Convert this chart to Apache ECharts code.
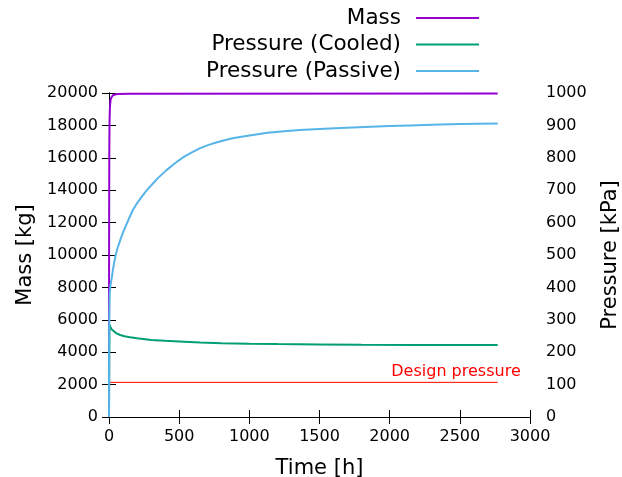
<!DOCTYPE html>
<html>
<head>
<meta charset="utf-8">
<script src="https://cdn.jsdelivr.net/npm/echarts@6/dist/echarts.min.js"></script>
<style>
  html, body { margin: 0; padding: 0; background: #fff; }
  #chart { width: 622px; height: 477px; }
</style>
</head>
<body>
<div id="chart"></div>
<script>
// time [h], mass [kg]
const massData = [[0, 0], [0.5, 8000], [1, 12000], [2, 16000], [3, 17500], [4, 18300], [6, 19000], [8, 19300], [11, 19550], [15, 19700], [20, 19800], [30, 19880], [60, 19940], [150, 19960], [2770, 19970]];
// time [h], pressure [kPa]
const cooledData = [[0, 0], [3, 285], [6, 281], [10, 278], [20, 270], [30, 265], [50, 259], [80, 253], [110, 249], [150, 246], [200, 243], [300, 238], [400, 235], [500, 233], [650, 230], [800, 228], [1000, 226], [1200, 225], [1500, 224], [1800, 223], [2200, 222.5], [2770, 222]];
const passiveData = [[0, 0], [2, 300], [5, 380], [10, 405], [20, 430], [30, 460], [45, 495], [60, 520], [80, 546], [100, 570], [120, 590], [145, 615], [170, 639], [200, 660], [230, 678], [260, 695], [290, 710], [350, 738], [410, 762], [470, 783], [530, 802], [590, 817], [650, 830], [710, 840], [770, 848], [830, 855], [890, 861], [1000, 869], [1130, 877], [1250, 882], [1360, 886], [1500, 889], [1650, 892], [1820, 895], [2000, 898], [2150, 900], [2300, 902], [2500, 904], [2770, 906]];
const designPressure = [[0, 107], [2770, 107]];

const font = 'DejaVu Sans';
const chart = echarts.init(document.getElementById('chart'), null, { renderer: 'canvas' });

const frameLine = { show: true, lineStyle: { color: '#000', width: 1 } };
const innerTick = { show: true, inside: true, length: 7, lineStyle: { color: '#000' } };
const plain = v => String(v);

const option = {
    animation: false,
    textStyle: { fontFamily: font },
    grid: { left: 109, right: 92, top: 93, bottom: 60, containLabel: false, outerBoundsMode: 'none' },
    legend: {
        orient: 'vertical',
        right: 138,
        top: 1,
        align: 'right',
        itemWidth: 63,
        itemHeight: 2,
        itemGap: 2.5,
        icon: 'rect',
        data: ['Mass', 'Pressure (Cooled)', 'Pressure (Passive)'],
        textStyle: { fontSize: 21.5, color: '#000', fontFamily: font, padding: [0, 10, 0, 0], lineHeight: 24 }
    },
    xAxis: [
        {
            type: 'value', min: 0, max: 3000, interval: 500,
            name: 'Time [h]', nameLocation: 'middle', nameGap: 41,
            nameTextStyle: { fontSize: 21, color: '#000' },
            axisLine: frameLine, axisTick: innerTick,
            axisLabel: { fontSize: 16, color: '#000', margin: 12, formatter: plain },
            splitLine: { show: false }
        },
        {
            type: 'value', min: 0, max: 3000, interval: 500, position: 'top',
            axisLine: frameLine, axisTick: innerTick,
            axisLabel: { show: false }, splitLine: { show: false }
        }
    ],
    yAxis: [
        {
            type: 'value', min: 0, max: 20000, interval: 2000,
            name: 'Mass [kg]', nameLocation: 'middle', nameGap: 72, nameRotate: 90,
            nameTextStyle: { fontSize: 21, color: '#000' },
            axisLine: frameLine, axisTick: innerTick,
            axisLabel: { fontSize: 16, color: '#000', margin: 11, formatter: plain },
            splitLine: { show: false }
        },
        {
            type: 'value', min: 0, max: 1000, interval: 100, position: 'right',
            name: 'Pressure [kPa]', nameLocation: 'middle', nameGap: 70, nameRotate: 90,
            nameTextStyle: { fontSize: 21, color: '#000' },
            axisLine: frameLine, axisTick: innerTick,
            axisLabel: { fontSize: 16, color: '#000', margin: 16, formatter: plain },
            splitLine: { show: false }
        }
    ],
    series: [
        {
            name: 'Design pressure', type: 'line', yAxisIndex: 1,
            data: designPressure, showSymbol: false, symbol: 'none',
            lineStyle: { color: '#ff0000', width: 1 },
            itemStyle: { color: '#ff0000' },
            endLabel: {
                show: true, formatter: 'Design pressure', color: '#ff0000',
                fontSize: 16, fontFamily: font, align: 'right', offset: [15, -10]
            }
        },
        {
            name: 'Mass', type: 'line', data: massData,
            showSymbol: false, symbol: 'none',
            lineStyle: { color: '#9400d3', width: 2 }, itemStyle: { color: '#9400d3' }
        },
        {
            name: 'Pressure (Cooled)', type: 'line', yAxisIndex: 1, data: cooledData,
            showSymbol: false, symbol: 'none',
            lineStyle: { color: '#009e73', width: 2 }, itemStyle: { color: '#009e73' }
        },
        {
            name: 'Pressure (Passive)', type: 'line', yAxisIndex: 1, data: passiveData,
            showSymbol: false, symbol: 'none',
            lineStyle: { color: '#56b4e9', width: 2 }, itemStyle: { color: '#56b4e9' }
        }
    ]
};
chart.setOption(option);
</script>
</body>
</html>
